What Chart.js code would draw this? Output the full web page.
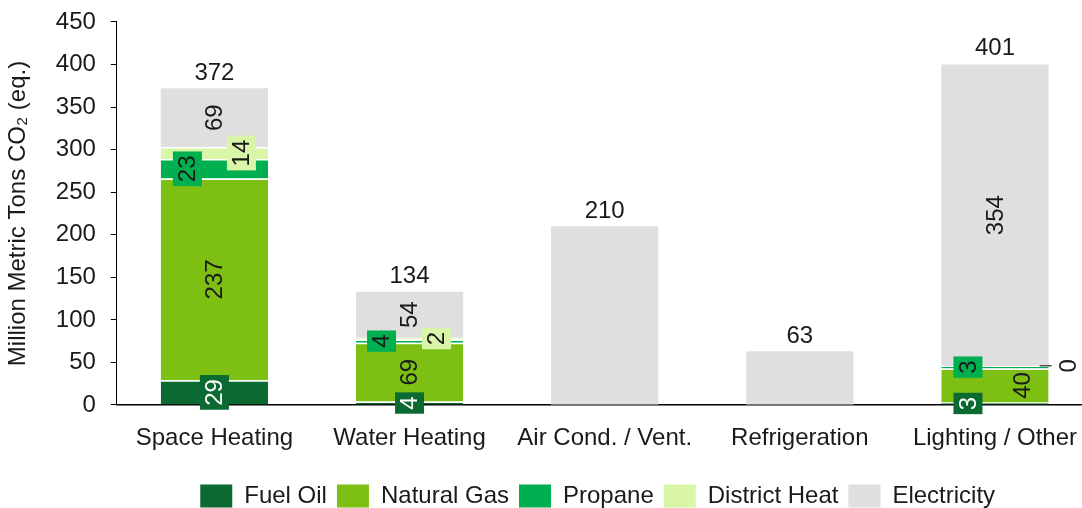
<!DOCTYPE html>
<html><head><meta charset="utf-8">
<script src="https://cdn.jsdelivr.net/npm/chart.js@4/dist/chart.umd.min.js"></script>
<style>
html,body{margin:0;padding:0;background:#fff;overflow:hidden;}
#wrap{width:1096px;height:508px;position:relative;}
</style></head><body><div id="wrap"><canvas id="c"></canvas></div>
<script>
// ---- data ----
const categories = ['Space Heating', 'Water Heating', 'Air Cond. / Vent.', 'Refrigeration', 'Lighting / Other'];
const seriesNames = ['Fuel Oil', 'Natural Gas', 'Propane', 'District Heat', 'Electricity'];
const fuelOil      = [29, 4, null, null, 3];
const naturalGas   = [237, 69, null, null, 40];
const propane      = [23, 4, null, null, 3];
const districtHeat = [14, 2, null, null, 0];
const electricity  = [69, 54, 210, 63, 354];
const totals       = [372, 134, 210, 63, 401];
const yTickStep = 50;
const yMax = 450;

// ---- style ----
const FONT = "'Liberation Sans', Arial, sans-serif";
const TXT = '#1a1a1a';
const colors = ['#0B6A32', '#7DBF13', '#00B050', '#D8F5A8', '#DFDFDF'];
const labelColors = ['#ffffff', TXT, TXT, TXT, TXT];
// per series, per category: [dx, boxed, mode]  mode: 'in' | 'out'
const labelStyle = [
  [[0, true, 'in'], [0, true, 'in'], null, null, [-27, true, 'in']],
  [[0, false, 'in'], [0, false, 'in'], null, null, [27, false, 'in']],
  [[-27, true, 'in'], [-28, true, 'in'], null, null, [-27, true, 'in']],
  [[27, true, 'in'], [27, true, 'in'], null, null, [0, false, 'out']],
  [[0, false, 'in'], [0, false, 'in'], null, null, [0, false, 'in']]
];

const seriesData = [fuelOil, naturalGas, propane, districtHeat, electricity];

const labelPlugin = {
  id: 'segLabels',
  afterDatasetsDraw(chart) {
    const ctx = chart.ctx;
    ctx.save();
    ctx.font = '24px ' + FONT;
    ctx.textAlign = 'center';
    ctx.textBaseline = 'middle';
    chart.data.datasets.forEach((ds, i) => {
      const meta = chart.getDatasetMeta(i);
      meta.data.forEach((el, j) => {
        const v = ds.data[j];
        const st = labelStyle[i][j];
        if (v === null || !st) return;
        const txt = String(v);
        const w = ctx.measureText(txt).width;
        if (st[2] === 'out') {
          const right = el.x + el.width / 2;
          ctx.strokeStyle = '#000';
          ctx.lineWidth = 1;
          ctx.beginPath();
          ctx.moveTo(right - 9, el.y);
          ctx.lineTo(right + 3, el.y);
          ctx.stroke();
          ctx.save();
          ctx.translate(right + 20, el.y);
          ctx.rotate(-Math.PI / 2);
          ctx.fillStyle = TXT;
          ctx.fillText(txt, 0, 1);
          ctx.restore();
          return;
        }
        const cx = el.x + st[0];
        const cy = (el.y + el.base) / 2;
        ctx.save();
        ctx.translate(cx, cy);
        ctx.rotate(-Math.PI / 2);
        if (st[1]) {
          ctx.fillStyle = colors[i];
          ctx.fillRect(-w / 2 - 4, -14.5, w + 8, 29);
        }
        ctx.fillStyle = labelColors[i];
        ctx.fillText(txt, 0, 1);
        ctx.restore();
      });
    });
    // totals above each stack
    const topMeta = chart.getDatasetMeta(chart.data.datasets.length - 1);
    ctx.fillStyle = TXT;
    topMeta.data.forEach((el, j) => {
      const yTop = chart.scales.y.getPixelForValue(totals[j]);
      ctx.fillText(String(totals[j]), el.x, Math.min(yTop, el.y) - 15);
    });
    ctx.restore();
  }
};

const datasets = seriesNames.map((name, i) => ({
  label: name,
  data: seriesData[i],
  backgroundColor: colors[i],
  borderColor: '#ffffff',
  borderWidth: i < 4 ? {top: 1.5, left: 0, right: 0, bottom: 0} : 0,
  borderSkipped: false,
  barPercentage: 0.55,
  categoryPercentage: 1.0
}));

const chart = new Chart(document.getElementById('c'), {
  type: 'bar',
  data: { labels: categories, datasets },
  plugins: [labelPlugin],
  options: {
    responsive: true,
    maintainAspectRatio: false,
    animation: false,
    layout: { padding: { top: 0, left: 4, right: 0, bottom: 0 } },
    plugins: {
      tooltip: { enabled: false },
      legend: {
        position: 'bottom',
        fullSize: false,
        labels: {
          boxWidth: 32, boxHeight: 23, padding: 10,
          color: TXT,
          font: { size: 24, family: FONT },
          generateLabels(chart) {
            return Chart.defaults.plugins.legend.labels.generateLabels(chart).map(l => Object.assign(l, { lineWidth: 0, strokeStyle: 'rgba(0,0,0,0)' }));
          }
        }
      }
    },
    scales: {
      x: {
        stacked: true,
        grid: { display: false, drawTicks: false },
        border: { display: true, color: '#000', width: 1.5 },
        ticks: { color: TXT, font: { size: 24, family: FONT }, padding: 19, maxRotation: 0, autoSkip: false },
        afterFit(scale) { scale.height -= 7.8; }
      },
      y: {
        stacked: true,
        min: 0, max: yMax,
        ticks: { stepSize: yTickStep, color: TXT, font: { size: 24, family: FONT, lineHeight: 0.58 }, padding: 15 },
        grid: { drawOnChartArea: false, drawTicks: true, tickLength: 6, color: '#000', lineWidth: 1 },
        border: { display: true, color: '#000', width: 1 },
        title: { display: true, text: 'Million Metric Tons CO₂ (eq.)', color: TXT, font: { size: 24, family: FONT }, padding: { top: 0, bottom: 8 } }
      }
    }
  }
});

// nudge the legend to its place under the plot
const legendDraw = chart.legend.draw.bind(chart.legend);
chart.legend.draw = function (area) {
  const ctx = chart.ctx;
  ctx.save();
  ctx.translate(-7, 10);
  legendDraw(area);
  ctx.restore();
};
chart.draw();
</script>
</body></html>
